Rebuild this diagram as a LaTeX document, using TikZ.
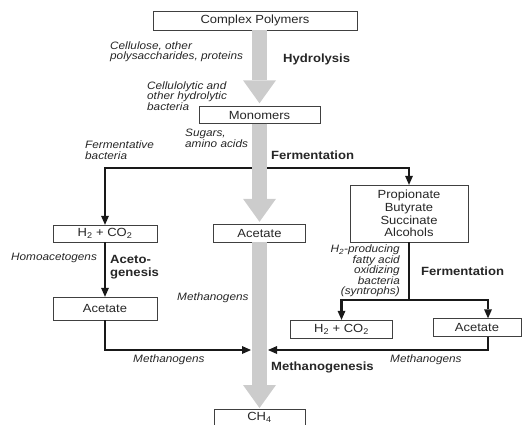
\documentclass[tikz,border=0pt]{standalone}
\usepackage{fontspec}
\setmainfont{Liberation Sans}[FakeStretch=1.1]
\usetikzlibrary{arrows.meta}

\begin{document}
\begin{tikzpicture}[x=1pt,y=-1pt]%
\tikzstyle{stage} = [draw=black!75, fill=white, thin, rectangle, inner sep=0pt,
    font=\fontsize{11.8}{12.7}\selectfont, text=black!85]
\tikzstyle{microbe} = [inner sep=0pt, font=\fontsize{10.7}{10.4}\selectfont\itshape, text=black!85]
\tikzstyle{process} = [inner sep=0pt, font=\fontsize{11.9}{13.3}\selectfont\bfseries, text=black!85]
\tikzstyle{flow} = [draw=black!90, line width=2.6pt, -{Triangle[length=9pt,width=8pt,line width=0pt]}]
\tikzstyle{bigflow} = [draw=black!20, line width=15pt, -{Triangle[length=23pt,width=33pt,line width=0pt]}]

\useasboundingbox (0,0) rectangle (525,424);

\node[stage, minimum width=204pt, minimum height=19pt] (poly) at (255,20.5) {Complex Polymers};
\node[stage, minimum width=121pt, minimum height=17pt] (mono) at (259.5,115) {Monomers};
\node[stage, minimum width=104pt, minimum height=17pt] (h2l) at (105,233.5) {H\textsubscript{2} + CO\textsubscript{2}};
\node[stage, minimum width=92pt, minimum height=18pt] (acem) at (259.5,233) {Acetate};
\node[stage, minimum width=118pt, minimum height=57pt, align=center] (props) at (409,213.5)
    {Propionate\\Butyrate\\Succinate\\Alcohols};
\node[stage, minimum width=104pt, minimum height=23pt] (acel) at (105,308.5) {Acetate};
\node[stage, minimum width=102pt, minimum height=18pt] (h2r) at (341.5,329) {H\textsubscript{2} + CO\textsubscript{2}};
\node[stage, minimum width=88pt, minimum height=18pt] (acer) at (477,327.5) {Acetate};
\node[stage, minimum width=91pt, minimum height=16pt, anchor=north] (ch4) at (259.5,409) {CH\textsubscript{4}};

\node[microbe, anchor=west, align=left] (cellu) at (110,51.5) {Cellulose, other\\polysaccharides, proteins};
\node[process, anchor=west] (hydro) at (283,59) {Hydrolysis};
\node[microbe, anchor=west, align=left] (hydbact) at (147,96) {Cellulolytic and\\other hydrolytic\\bacteria};
\node[microbe, anchor=west, align=left] (sugars) at (185,138.5) {Sugars,\\amino acids};
\node[microbe, anchor=west, align=left] (fermbact) at (85,150) {Fermentative\\bacteria};
\node[process, anchor=west] (ferm) at (271,155) {Fermentation};
\node[microbe, anchor=west] (homo) at (11,258) {Homoacetogens};
\node[process, anchor=west, align=left] (aceto) at (110,267.5) {Aceto-\\genesis};
\node[microbe, anchor=west] (methmid) at (177,298) {Methanogens};
\node[microbe, anchor=east, align=right] (syntro) at (400,271)
    {H\textsubscript{2}-producing\\fatty acid\\oxidizing\\bacteria\\(syntrophs)};
\node[process, anchor=west] (fermtwo) at (421,271) {Fermentation};
\node[microbe, anchor=west] (methleft) at (133,360) {Methanogens};
\node[process, anchor=west] (methgen) at (271,367) {Methanogenesis};
\node[microbe, anchor=west] (methright) at (390,360) {Methanogens};

\coordinate (fork) at (259.5,168);
\coordinate (split) at (409,300);
\coordinate (mleft) at (251,350);
\coordinate (mright) at (268,350);

\draw[flow] (fork) -| (h2l.north);
\draw[flow] (fork) -| (props.north);
\draw[flow, line width=1.4pt] (h2l.south) -- (acel.north);
\draw[line width=2.6pt, draw=black!90] (props.south) -- (split);
\draw[flow] (split) -| (h2r.north);
\draw[flow] (split) -| ([xshift=11pt]acer.north);
\draw[flow] (acel.south) |- (mleft);
\draw[flow] ([xshift=11pt]acer.south) |- (mright);

\draw[bigflow, shorten >=3pt] ([xshift=4.5pt]poly.south) -- (mono.north);
\draw[bigflow, shorten >=2pt] (mono.south) -- (acem.north);
\draw[bigflow, shorten >=1pt] (acem.south) -- (ch4.north);
\end{tikzpicture}
\end{document}
